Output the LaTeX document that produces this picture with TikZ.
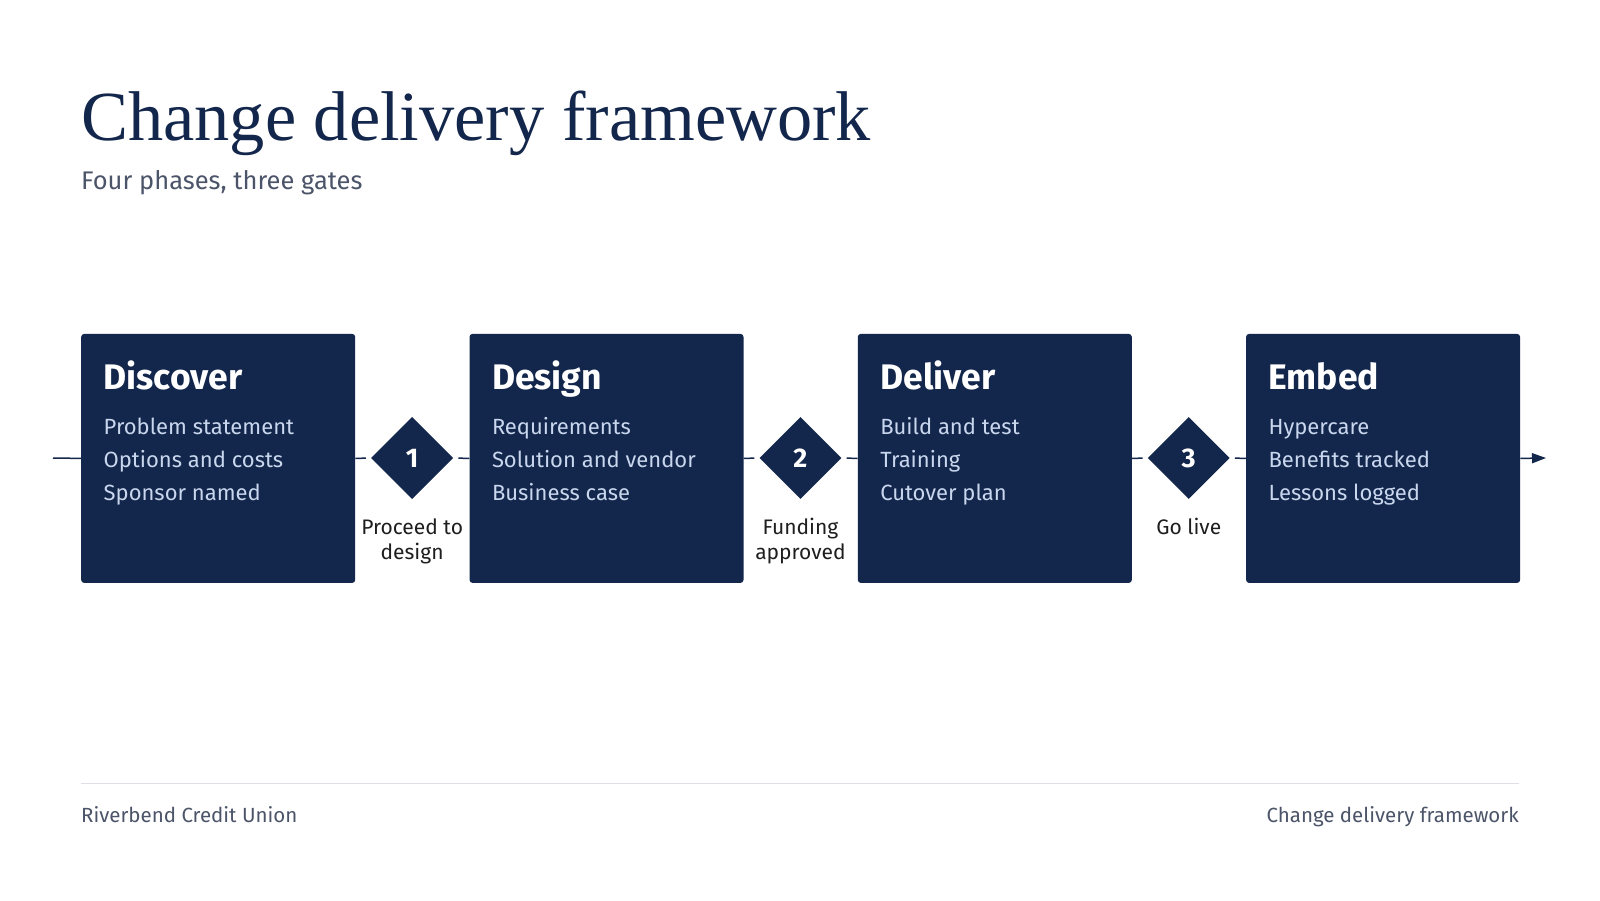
\documentclass[tikz,border=0pt]{standalone}
\usepackage{fontspec}
\setmainfont{Liberation Serif}
\setsansfont{Fira Sans}
\usetikzlibrary{shapes.geometric,arrows.meta,calc}
\definecolor{navy}{HTML}{13264B}
\definecolor{lighttxt}{HTML}{C9D7EE}
\definecolor{subgray}{HTML}{4B5468}
\definecolor{rulegray}{HTML}{DDE0E5}
\definecolor{gatetxt}{HTML}{1E1E1E}
\tikzset{
  phase/.style={draw=none,fill=navy,rounded corners=3pt,minimum width=274pt,minimum height=249pt,anchor=north west,inner sep=0pt},
  phasetitle/.style={anchor=base west,inner sep=0pt,text=white,font=\sffamily\bfseries\fontsize{35.5}{40}\selectfont},
  phaseitem/.style={anchor=base west,inner sep=0pt,text=lighttxt,font=\sffamily\fontsize{22}{26}\selectfont},
  gate/.style={diamond,fill=navy,minimum width=82pt,minimum height=82pt,inner sep=0pt,text=white,font=\sffamily\bfseries\fontsize{27}{30}\selectfont},
  gatelabel/.style={anchor=base,inner sep=0pt,text=gatetxt,align=center,font=\sffamily\fontsize{21}{24.5}\selectfont},
  footer/.style={inner sep=0pt,text=subgray,font=\sffamily\fontsize{20.5}{24}\selectfont},
  flow/.style={draw=navy,line width=1.5pt},
  gapin/.style={shorten >=5pt},
  gapout/.style={shorten <=5pt},
}
\begin{document}
\begin{tikzpicture}[x=1pt,y=-1pt]
\useasboundingbox[fill=white] (0,0) rectangle (1600,900);
% title
\node[anchor=base west,inner sep=0pt,text=navy,font=\fontsize{70.4}{80}\selectfont] (title) at (81,140) {Change delivery framework};
\node[anchor=base west,inner sep=0pt,text=subgray,font=\sffamily\fontsize{25.5}{28}\selectfont] (subtitle) at (81,189) {Four phases, three gates};
% phases
\node[phase] (p1) at (81,333.7) {};
\node[phase] (p2) at (469.3,333.7) {};
\node[phase] (p3) at (857.6,333.7) {};
\node[phase] (p4) at (1245.9,333.7) {};
% gates
\node[gate] (g1) at (412.15,458) {1};
\node[gate] (g2) at (800.45,458) {2};
\node[gate] (g3) at (1188.75,458) {3};
% flow line
\coordinate (start) at (53,458);
\coordinate (finish) at (1546,458);
\draw[flow] (start) -- (p1.west);
\draw[flow,gapin] (p1.east) -- (g1.west);
\draw[flow,gapout] (g1.east) -- (p2.west);
\draw[flow,gapin] (p2.east) -- (g2.west);
\draw[flow,gapout] (g2.east) -- (p3.west);
\draw[flow,gapin] (p3.east) -- (g3.west);
\draw[flow,gapout] (g3.east) -- (p4.west);
\draw[flow,-{Triangle[length=14pt,width=10pt]}] (p4.east) -- (finish);
% phase texts
\foreach \n/\t/\a/\b/\c [count=\i] in {p1/Discover/Problem statement/Options and costs/Sponsor named,
  p2/Design/Requirements/Solution and vendor/Business case,
  p3/Deliver/Build and test/Training/Cutover plan,
  p4/Embed/Hypercare/Benefits tracked/Lessons logged}{
  \node[phasetitle] (\n t) at ($(\n.north west)+(22.5,56)$) {\t};
  \node[phaseitem] (\n a) at ($(\n.north west)+(22.5,101)$) {\a};
  \node[phaseitem] (\n b) at ($(\n.north west)+(22.5,133.6)$) {\b};
  \node[phaseitem] (\n c) at ($(\n.north west)+(22.5,166.3)$) {\c};
}
% gate labels (base = last line's baseline)
\node[gatelabel] (l1) at (412.15,559.2) {Proceed to\\design};
\node[gatelabel] (l2) at (800.45,559.2) {Funding\\approved};
\node[gatelabel] (l3) at (1188.75,534.7) {Go live};
% footer
\draw[rulegray,line width=1pt] (81,783) coordinate (fl) -- (1519,783) coordinate (fr);
\node[footer,anchor=base west] (footl) at (81,822.5) {Riverbend Credit Union};
\node[footer,anchor=base east] (footr) at (1519,822.5) {Change delivery framework};
\end{tikzpicture}
\end{document}
